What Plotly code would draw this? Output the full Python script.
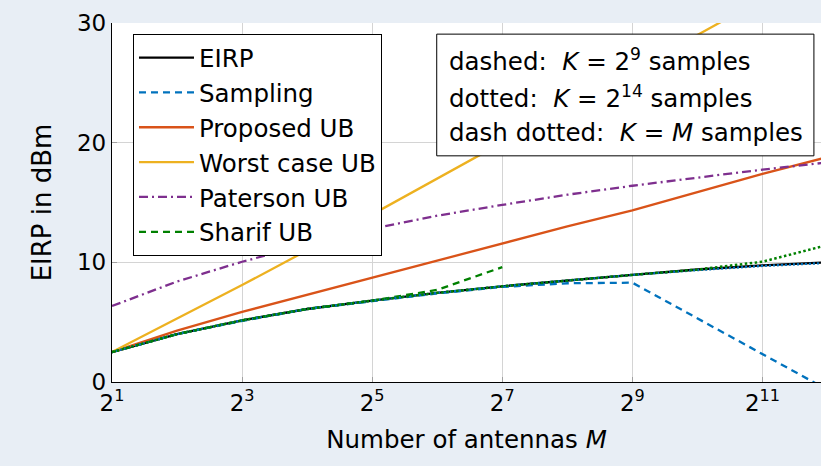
import math
import plotly.graph_objects as go

# Number of antennas M (powers of two)
M = [2, 4, 8, 16, 32, 64, 128, 256, 512, 1024, 2048, 4096]

eirp = [2.5, 4.0, 5.15, 6.1, 6.8, 7.45, 8.0, 8.5, 8.95, 9.4, 9.75, 10.0]
sampling_k9 = [2.5, 4.0, 5.1, 6.1, 6.75, 7.4, 7.95, 8.25, 8.3, 5.3, 2.3, -0.65]
sampling_k14 = [2.5, 4.0, 5.15, 6.1, 6.8, 7.45, 8.0, 8.5, 8.95, 9.35, 9.7, 9.95]
proposed_ub = [2.5, 4.3, 5.86, 7.3, 8.7, 10.15, 11.6, 13.0, 14.35, 15.9, 17.4, 18.8]
worst_ub = [2.5, 5.3, 8.1, 11.0, 14.0, 17.0, 20.0, 23.0, 26.0, 29.0, 32.0, 35.0]
paterson_ub = [6.35, 8.4, 10.05, 11.5, 12.8, 13.9, 14.8, 15.65, 16.4, 17.1, 17.75, 18.35]
M_sharif9 = [2, 4, 8, 16, 32, 64, 128]
sharif_k9 = [2.5, 4.0, 5.15, 6.1, 6.8, 7.7, 9.6]
sharif_k14 = [2.5, 4.0, 5.15, 6.1, 6.8, 7.45, 8.0, 8.5, 8.95, 9.4, 10.05, 11.45]

x_tick_vals = [2, 8, 32, 128, 512, 2048]
x_tick_text = ["2<sup>1</sup>", "2<sup>3</sup>", "2<sup>5</sup>", "2<sup>7</sup>", "2<sup>9</sup>", "2<sup>11</sup>"]
y_tick_vals = [0, 10, 20, 30]

note_lines = [
    "dashed:&nbsp; <i>K</i>&nbsp;=&nbsp;2<sup>9</sup> samples",
    "dotted:&nbsp; <i>K</i>&nbsp;=&nbsp;2<sup>14</sup> samples",
    "dash dotted:&nbsp; <i>K</i>&nbsp;=&nbsp;<i>M</i> samples",
]

BLUE = "#0072BD"
ORANGE = "#D95319"
YELLOW = "#EDB120"
PURPLE = "#7E2F8E"
GREEN = "#008000"
BG = "#e8eef5"

FONT = "DejaVu Sans"

fig = go.Figure()
fig.add_trace(go.Scatter(x=M, y=eirp, mode="lines", name="EIRP",
                         line=dict(color="black", width=2.3)))
fig.add_trace(go.Scatter(x=M, y=sampling_k9, mode="lines", name="Sampling",
                         line=dict(color=BLUE, width=2.3, dash="7px,5px")))
fig.add_trace(go.Scatter(x=M, y=proposed_ub, mode="lines", name="Proposed UB",
                         line=dict(color=ORANGE, width=2.3)))
fig.add_trace(go.Scatter(x=M, y=worst_ub, mode="lines", name="Worst case UB",
                         line=dict(color=YELLOW, width=2.3)))
fig.add_trace(go.Scatter(x=M, y=paterson_ub, mode="lines", name="Paterson UB",
                         line=dict(color=PURPLE, width=2.3, dash="9px,4px,2px,4px")))
fig.add_trace(go.Scatter(x=M_sharif9, y=sharif_k9, mode="lines", name="Sharif UB",
                         line=dict(color=GREEN, width=2.3, dash="7px,5px")))
fig.add_trace(go.Scatter(x=M, y=sampling_k14, mode="lines", showlegend=False,
                         line=dict(color=BLUE, width=2.3, dash="2px,2px")))
fig.add_trace(go.Scatter(x=M, y=sharif_k14, mode="lines", showlegend=False,
                         line=dict(color=GREEN, width=2.5, dash="2.5px,2.5px")))

# note box (paper coordinates of the plot area)
box_x0, box_x1 = 0.458, 0.990
box_y1, box_y0 = 0.969, 0.630
line_y = [0.897, 0.795, 0.694]

annotations = [dict(xref="paper", yref="paper", x=box_x0 + 0.014, y=yy,
                    xanchor="left", yanchor="middle", align="left",
                    showarrow=False, text=t, font=dict(size=24.5))
               for t, yy in zip(note_lines, line_y)]

fig.update_layout(
    width=821, height=466,
    margin=dict(l=112, r=0, t=23, b=84),
    paper_bgcolor=BG,
    plot_bgcolor="white",
    font=dict(family=FONT, size=23, color="black"),
    legend=dict(x=0.0296, y=0.969, xanchor="left", yanchor="top",
                bgcolor="white", bordercolor="black", borderwidth=1,
                font=dict(size=24.5), tracegroupgap=0, itemwidth=55),
    shapes=[dict(type="rect", xref="paper", yref="paper",
                 x0=box_x0, x1=box_x1, y0=box_y0, y1=box_y1,
                 line=dict(color="black", width=1), fillcolor="white", layer="above")],
    annotations=annotations,
)
fig.update_xaxes(type="log", range=[math.log10(2), 11.9 * math.log10(2)],
                 tickvals=x_tick_vals, ticktext=x_tick_text,
                 showgrid=True, gridcolor="#d4d4d4", gridwidth=1,
                 ticks="inside", ticklen=5, tickcolor="#a0a0a0",
                 showline=True, linecolor="black", linewidth=1.3, zeroline=False,
                 title=dict(text="Number of antennas <i>M</i>", standoff=16,
                            font=dict(size=24.5)))
fig.update_yaxes(range=[0, 30], tickvals=y_tick_vals,
                 showgrid=True, gridcolor="#d4d4d4", gridwidth=1,
                 ticks="inside", ticklen=5, tickcolor="#a0a0a0",
                 showline=True, linecolor="black", linewidth=1.3, zeroline=False,
                 title=dict(text="EIRP in dBm", standoff=17, font=dict(size=26)))

fig.write_html("out.html", config={"displayModeBar": False},
               post_script="document.body.style.margin='0px';"
                           "document.body.style.background='" + BG + "';")
